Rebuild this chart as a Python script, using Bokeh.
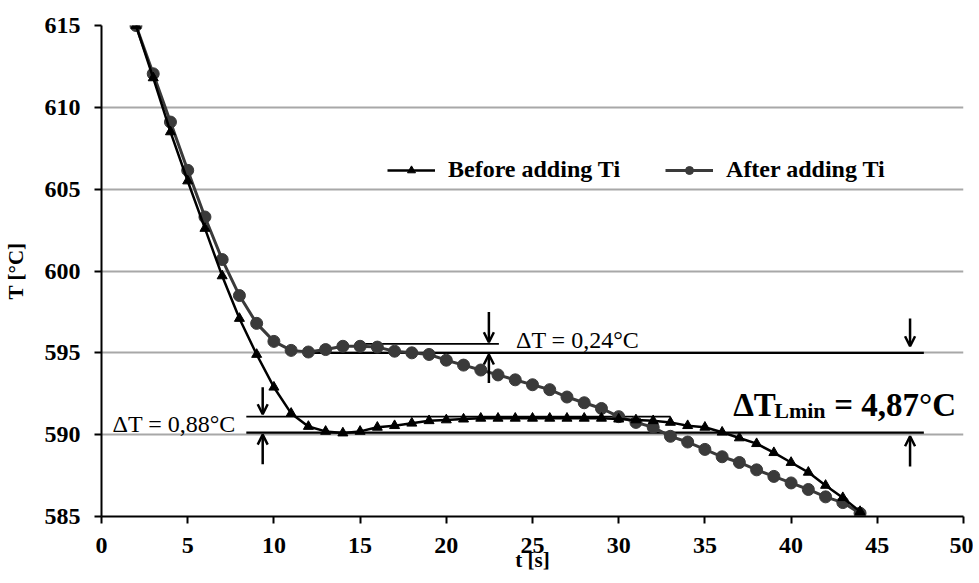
from bokeh.plotting import figure
from bokeh.models import Range1d, Arrow, OpenHead, Legend, LegendItem, FixedTicker
from bokeh.core.properties import value
from bokeh.embed import file_html
from bokeh.resources import INLINE

# ---- data ----
t_s = list(range(2, 45))
before_ti = [615.0, 611.8, 608.5, 605.5, 602.6, 599.7, 597.1, 594.9, 592.9, 591.3,
             590.5, 590.2, 590.1, 590.2, 590.45, 590.55, 590.7, 590.85, 590.9, 590.95,
             591.0, 591.0, 591.0, 591.0, 591.0, 591.0, 591.0, 591.0, 590.95, 590.9,
             590.85, 590.75, 590.55, 590.45, 590.15, 589.8, 589.45, 588.9, 588.3, 587.7,
             586.9, 586.15, 585.3]
after_ti = [615.0, 612.05, 609.1, 606.15, 603.3, 600.7, 598.5, 596.8, 595.7, 595.15,
            595.05, 595.2, 595.4, 595.4, 595.35, 595.1, 595.0, 594.9, 594.55, 594.25,
            593.95, 593.65, 593.35, 593.05, 592.75, 592.3, 591.95, 591.6, 591.1, 590.75,
            590.45, 589.9, 589.55, 589.1, 588.65, 588.3, 587.85, 587.45, 587.05, 586.65,
            586.2, 585.85, 585.2]
x_ticks = [0, 5, 10, 15, 20, 25, 30, 35, 40, 45, 50]
y_ticks = [585, 590, 595, 600, 605, 610, 615]

SERIF = "Liberation Serif"

p = figure(width=973, height=575, x_range=Range1d(0, 50), y_range=Range1d(585, 615),
           output_backend="svg", toolbar_location=None,
           min_border_left=100, min_border_top=25, min_border_right=10, min_border_bottom=59)
p.outline_line_color = None
p.background_fill_color = "white"
p.border_fill_color = "white"

# grid
p.xgrid.visible = False
p.ygrid.ticker = FixedTicker(ticks=y_ticks)
p.ygrid.grid_line_color = "#a8a8a8"
p.ygrid.grid_line_width = 2

# axes
for ax in (p.xaxis[0], p.yaxis[0]):
    ax.axis_line_color = "black"
    ax.axis_line_width = 2
    ax.major_tick_line_color = "black"
    ax.major_tick_line_width = 2
    ax.major_tick_in = 0
    ax.major_tick_out = 7
    ax.minor_tick_line_color = None
    ax.major_label_text_font = SERIF
    ax.major_label_text_font_style = "bold"
    ax.major_label_text_font_size = "24px"
    ax.major_label_text_color = "black"
    ax.axis_label_text_font = SERIF
    ax.axis_label_text_font_style = "bold"
    ax.axis_label_text_font_size = "21px"
    ax.axis_label_text_color = "black"
p.xaxis.ticker = FixedTicker(ticks=x_ticks)
p.yaxis.ticker = FixedTicker(ticks=y_ticks)
p.xaxis.axis_label = "t [s]"
p.yaxis.axis_label = "T [°C]"
p.xaxis.major_label_standoff = 14
p.yaxis.major_label_standoff = 14
p.xaxis.axis_label_standoff = -8
p.yaxis.axis_label_standoff = 14

# annotation lines (behind series)
seg_x0 = [12.3, 15.0, 8.4, 8.4]
seg_x1 = [47.7, 23.05, 33.0, 47.7]
seg_y = [595.0, 595.55, 591.1, 590.12]
seg_w = [2.2, 1.6, 1.6, 2.2]
p.segment(x0=seg_x0, y0=seg_y, x1=seg_x1, y1=seg_y, line_color="black", line_width=seg_w)

# series
AFTER_C = "#3a3a3a"
la = p.line(t_s, after_ti, line_color=AFTER_C, line_width=3)
ma = p.scatter(t_s, after_ti, marker="circle", size=12, fill_color=AFTER_C, line_color=AFTER_C)
lb = p.line(t_s, before_ti, line_color="black", line_width=2.5)
mb = p.scatter(t_s, before_ti, marker="triangle", size=10, fill_color="black", line_color="black")

# arrows
arrows = [
    (9.35, 592.9, 9.35, 591.25),
    (9.35, 588.2, 9.35, 590.0),
    (22.47, 597.5, 22.47, 595.65),
    (22.47, 593.15, 22.47, 594.9),
    (46.9, 597.1, 46.9, 595.4),
    (46.9, 588.05, 46.9, 589.9),
]
for x0, y0, x1, y1 in arrows:
    p.add_layout(Arrow(x_start=x0, y_start=y0, x_end=x1, y_end=y1, line_color="black",
                       line_width=2.5, end=OpenHead(size=10, line_width=2.5, line_color="black")))

# texts
p.text(x=[0.64, 24.04], y=[590.67, 595.79], text=["ΔT = 0,88°C", "ΔT = 0,24°C"],
       text_font=value(SERIF), text_font_size="24px", text_color="black",
       text_baseline="alphabetic", text_align="left")
p.text(x=[36.64, 42.5], y=[591.83, 591.83], text=["ΔT", "= 4,87°C"],
       text_font=value(SERIF), text_font_size="33px", text_font_style="bold",
       text_color="black", text_baseline="alphabetic", text_align="left")
p.text(x=[39.02], y=[591.45], text=["Lmin"],
       text_font=value(SERIF), text_font_size="22px", text_font_style="bold",
       text_color="black", text_baseline="alphabetic", text_align="left")

# legend
legend = Legend(items=[LegendItem(label="Before adding Ti", renderers=[lb, mb]),
                       LegendItem(label="After adding Ti", renderers=[la, ma])],
                orientation="horizontal", location=(284, 331),
                label_text_font=SERIF, label_text_font_style="bold",
                label_text_font_size="24px", label_text_color="black",
                glyph_width=48, label_standoff=13, spacing=45, padding=2, margin=0,
                border_line_alpha=0, background_fill_alpha=0)
p.add_layout(legend)

open("out.html", "w").write(file_html(p, INLINE))
